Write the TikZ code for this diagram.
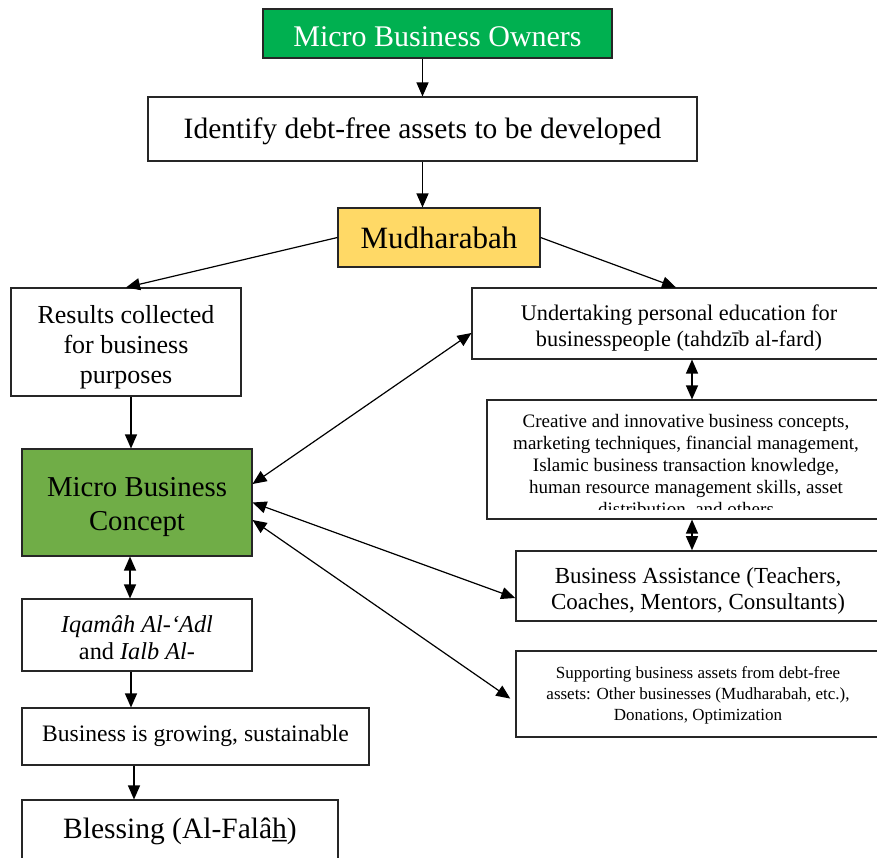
\documentclass[tikz,border=0pt]{standalone}
\usepackage{fontspec}
\setmainfont{Liberation Serif}
\usetikzlibrary{arrows.meta}
\definecolor{gOwn}{HTML}{00B050}
\definecolor{gCon}{HTML}{70AD47}
\definecolor{yMud}{HTML}{FFD966}
\definecolor{bord}{HTML}{262626}
\newcommand{\fsz}[2]{\fontsize{#1pt}{#2pt}\selectfont}
\tikzset{
  box/.style={draw=bord, line width=1.1pt, rectangle, inner sep=0pt},
  thickbox/.style={box, line width=1.6pt},
  txt/.style={inner sep=0pt, align=center},
  arr/.style={line width=1.2pt, -{Triangle[length=14pt,width=12pt]}},
  darr/.style={line width=1.2pt, {Triangle[length=14pt,width=12pt]}-{Triangle[length=14pt,width=12pt]}},
}
\begin{document}
\begin{tikzpicture}[x=1pt,y=-1pt]
\useasboundingbox (0,0) rectangle (877,858);
% boxes
\node[box, fill=gOwn, minimum width=349pt, minimum height=49pt] (own) at (437.5,33.5) {};
\node[box, minimum width=549pt, minimum height=64pt] (idn) at (422.5,129) {};
\node[box, fill=yMud, minimum width=202pt, minimum height=59pt] (mud) at (439,237.5) {};
\node[box, minimum width=230pt, minimum height=108pt] (res) at (126,342) {};
\node[box, minimum width=408pt, minimum height=71pt] (und) at (676,323.5) {};
\node[box, minimum width=393pt, minimum height=119pt] (cre) at (683.5,459.5) {};
\node[box, fill=gCon, minimum width=230pt, minimum height=107pt] (con) at (137,502.5) {};
\node[thickbox, minimum width=364pt, minimum height=70pt] (ass) at (698,586) {};
\node[thickbox, minimum width=364pt, minimum height=86pt] (sup) at (698,694) {};
\node[box, minimum width=230pt, minimum height=72pt] (iqa) at (137,635) {};
\node[box, minimum width=347pt, minimum height=57pt] (gro) at (195.5,736.5) {};
\node[box, minimum width=316pt, minimum height=62pt] (ble) at (180,831) {};
% texts
\node[txt, text=white, font=\fsz{30}{30}] (ownT) at ([yshift=-3pt]own.center) {Micro Business Owners};
\node[txt, font=\fsz{29.5}{30}] (idnT) at ([yshift=-2pt]idn.center) {Identify debt-free assets to be developed};
\node[txt, font=\fsz{31}{30}] (mudT) at (mud.center) {Mudharabah};
\node[txt, font=\fsz{26}{30}] (resT) at ([yshift=-5pt]res.center) {Results collected\\ for business\\ purposes};
\node[txt, font=\fsz{22.3}{26}] (undT) at ([xshift=3pt,yshift=-5pt]und.center) {Undertaking personal education for\\ businesspeople (tahdzīb al-fard)};
\begin{scope}
\clip (480,402) rectangle (877,509);
\node[txt, anchor=north, font=\fsz{19}{22}] (creT) at (686,414) {Creative and innovative business concepts,\\ marketing techniques, financial management,\\ Islamic business transaction knowledge,\\ human resource management skills, asset\\ distribution, and others};
\end{scope}
\node[txt, font=\fsz{28.8}{34}] (conT) at ([yshift=-5pt]con.center) {Micro Business\\ Concept};
\node[txt, font=\fsz{23}{26}] (assT) at ([yshift=-5pt]ass.center) {Business Assistance (Teachers,\\ Coaches, Mentors, Consultants)};
\node[txt, font=\fsz{17}{21}] (supT) at ([yshift=-1pt]sup.center) {Supporting business assets from debt-free\\ assets: Other businesses (Mudharabah, etc.),\\ Donations, Optimization};
\node[txt, font=\fsz{24.3}{27}] (iqaT) at ([yshift=-3pt]iqa.center) {\textit{Iqamâh Al-‘Adl}\\ and \textit{Ialb Al-}};
\node[txt, font=\fsz{23.6}{26}] (groT) at ([yshift=1pt]gro.center) {Business is growing, sustainable};
\node[txt, font=\fsz{29.5}{30}] (bleT) at (ble.center) {Blessing (Al-Falâ\b{h})};
% connectors
\draw[arr] (own.south -| idn.north) -- (idn.north);
\draw[arr] (idn.south) -- (idn.south |- mud.north);
\draw[arr] (mud.west) -- (res.north);
\draw[arr] (mud.east) -- (und.north);
\draw[arr] ([xshift=5pt]res.south) -- ([xshift=-6pt]con.north);
\draw[darr] ([yshift=18.5pt]con.east) -- ([yshift=-9.5pt]und.west);
\draw[darr] ([xshift=16pt]und.south) -- ([xshift=8.5pt]cre.north);
\draw[darr] ([xshift=8.5pt]cre.south) -- ([xshift=-6pt]ass.north);
\draw[darr] (con.east) -- ([yshift=-12pt]ass.west);
\draw[darr, shorten >=6pt] ([yshift=-17.5pt]con.east) -- ([yshift=-8pt]sup.west);
\draw[darr] ([xshift=-7pt]con.south) -- ([xshift=-7pt]iqa.north);
\draw[arr] ([xshift=-6pt]iqa.south) -- ([xshift=-64.5pt]gro.north);
\draw[arr] ([xshift=-61.5pt]gro.south) -- ([xshift=-46pt]ble.north);
\end{tikzpicture}
\end{document}
